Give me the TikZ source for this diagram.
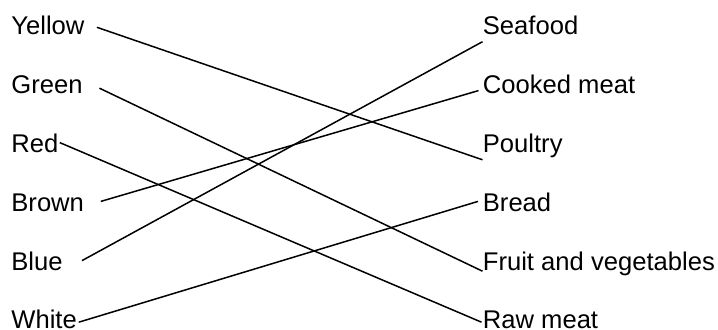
\documentclass[tikz,border=0pt]{standalone}
\usepackage{fontspec}
\setmainfont{Liberation Sans}
\tikzset{
  item/.style={inner sep=0pt,anchor=base west,font=\fontsize{12.8}{15}\selectfont},
  pair/.style={line width=0.75pt,black},
}

\begin{document}
\begin{tikzpicture}[x=0.5pt,y=-0.5pt]
\useasboundingbox (0,0) rectangle (718,330);
% colours on the left, foods on the right
\foreach \n/\t [count=\i] in {yellow/Yellow,green/Green,red/Red,brown/Brown,blue/Blue,white/White}
  {\node[item] (\n) at (11,{35+58.8*(\i-1)}) {\t};}
\foreach \n/\t [count=\i] in {seafood/Seafood,cooked/Cooked meat,poultry/Poultry,bread/Bread,fruit/Fruit and vegetables,raw/Raw meat}
  {\node[item] (\n) at (482.5,{35+58.8*(\i-1)}) {\t};}
% matching lines
\draw[pair] ([shift={(12,-7.7)}]yellow.base east) -- ([shift={(0,7.2)}]poultry.base west);
\draw[pair] ([shift={(16.5,-5.6)}]green.base east) -- ([shift={(0,1)}]fruit.base west);
\draw[pair] ([shift={(1,-10)}]red.base east) -- ([shift={(-1,-6.8)}]raw.base west);
\draw[pair] ([shift={(16.5,-10)}]brown.base east) -- ([shift={(-4,-3.2)}]cooked.base west);
\draw[pair] ([shift={(19,-9.6)}]blue.base east) -- ([shift={(0,6.7)}]seafood.base west);
\draw[pair] ([shift={(1.5,-6.8)}]white.base east) -- ([shift={(-4.5,-10)}]bread.base west);
\end{tikzpicture}
\end{document}
